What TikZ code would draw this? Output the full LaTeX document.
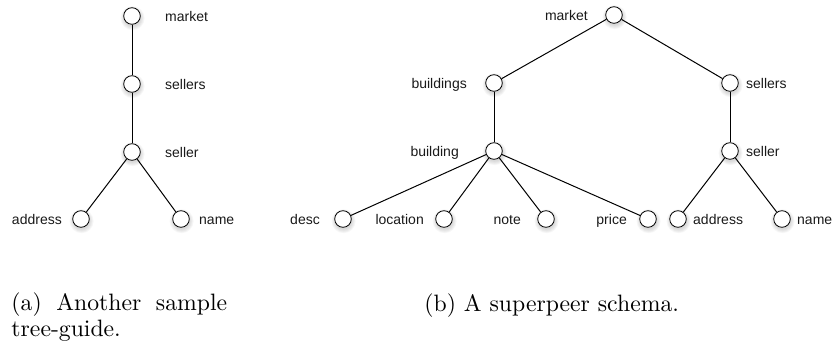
\documentclass[tikz,border=0pt]{standalone}
\usepackage{fontspec}
\newfontfamily\lblfont{Liberation Sans}
\usetikzlibrary{backgrounds}
\pgfdeclarelayer{shadowlayer}
\pgfsetlayers{shadowlayer,background,main}
\tikzset{
  vtx/.style={circle,draw=black,fill=white,line width=0.8pt,minimum size=16.6pt,inner sep=0pt},
  lbl/.style={font=\lblfont\fontsize{14}{16}\selectfont,inner sep=0pt,text=black!90},
  edge/.style={line width=1pt,black},
  captext/.style={font=\fontsize{10}{11}\selectfont,inner sep=0pt,scale=2.37},
}
\begin{document}
\begin{tikzpicture}[x=1pt,y=-1pt]
\useasboundingbox (0,0) rectangle (833,347);

% ---- tree-guide ----
\node[vtx] (m1)  at (132,16)  {};
\node[vtx] (s1)  at (132,84)  {};
\node[vtx] (sl1) at (132,152) {};
\node[vtx] (a1)  at (81,219)  {};
\node[vtx] (n1)  at (181,219) {};
\node[lbl,anchor=base west] (tm1)  at (165,22)  {market};
\node[lbl,anchor=base west] (ts1)  at (165,90)  {sellers};
\node[lbl,anchor=base west] (tsl1) at (165,158) {seller};
\node[lbl,anchor=base east] (ta1)  at (62,225)  {address};
\node[lbl,anchor=base west] (tn1)  at (199,225) {name};
\draw[edge] (m1) -- (s1);
\draw[edge] (s1) -- (sl1);
\draw[edge] (sl1) -- (a1);
\draw[edge] (sl1) -- (n1);

% ---- superpeer schema ----
\node[vtx] (m2)    at (614,15)  {};
\node[vtx] (b2)    at (494,83)  {};
\node[vtx] (s2)    at (730,83)  {};
\node[vtx] (bd2)   at (494,151) {};
\node[vtx] (sl2)   at (730,151) {};
\node[vtx] (desc)  at (343,219) {};
\node[vtx] (loc)   at (444,219) {};
\node[vtx] (note)  at (546,219) {};
\node[vtx] (price) at (648,219) {};
\node[vtx] (addr)  at (678,219) {};
\node[vtx] (name)  at (782,219) {};
\node[lbl,anchor=base east] (tm2)    at (588,21)  {market};
\node[lbl,anchor=base east] (tb2)    at (467,89)  {buildings};
\node[lbl,anchor=base west] (ts2)    at (746,89)  {sellers};
\node[lbl,anchor=base east] (tbd2)   at (459,157) {building};
\node[lbl,anchor=base west] (tsl2)   at (746,157) {seller};
\node[lbl,anchor=base east] (tdesc)  at (320,225) {desc};
\node[lbl,anchor=base east] (tloc)   at (424,225) {location};
\node[lbl,anchor=base east] (tnote)  at (521,225) {note};
\node[lbl,anchor=base east] (tprice) at (627,225) {price};
\node[lbl,anchor=base west] (taddr)  at (693,225) {address};
\node[lbl,anchor=base west] (tname)  at (797,225) {name};
\draw[edge] (m2) -- (b2);
\draw[edge] (m2) -- (s2);
\draw[edge] (b2) -- (bd2);
\draw[edge] (bd2) -- (desc);
\draw[edge] (bd2) -- (loc);
\draw[edge] (bd2) -- (note);
\draw[edge] (bd2) -- (price);
\draw[edge] (s2) -- (sl2);
\draw[edge] (sl2) -- (addr);
\draw[edge] (sl2) -- (name);

% soft shadows under the circles
\begin{pgfonlayer}{shadowlayer}
\foreach \n in {m1,s1,sl1,a1,n1,m2,b2,s2,bd2,sl2,desc,loc,note,price,addr,name}{
  \foreach \k in {1,...,5}{
    \fill[black,opacity=0.03] ([shift={(0.6,2.2)}]\n.center) circle[radius=7.5pt+\k*0.9pt];
  }
}
\end{pgfonlayer}

% ---- captions ----
\node[captext,anchor=base west] (capa) at (11,310.5)
  {\parbox[t]{91pt}{(a) Another sample\linebreak tree-guide.}};
\node[captext,anchor=base west] (capb) at (424,311.5) {(b) A superpeer schema.};
\end{tikzpicture}
\end{document}
